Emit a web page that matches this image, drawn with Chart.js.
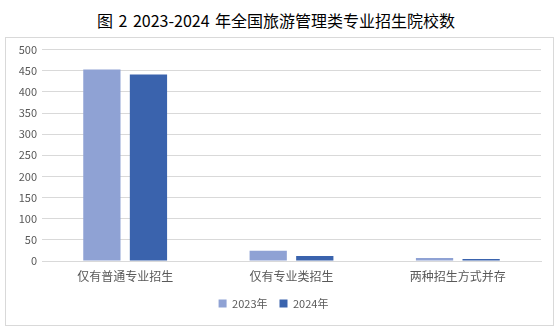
<!DOCTYPE html>
<html>
<head>
<meta charset="utf-8">
<script src="https://cdn.jsdelivr.net/npm/chart.js@4/dist/chart.umd.min.js"></script>
<style>
    body { margin: 0; background: #fff; width: 559px; height: 330px; position: relative; overflow: hidden; }
    #title {
        position: absolute; left: 0; top: 8px; width: 552px; text-align: center;
        font-family: "Noto Sans CJK SC", sans-serif; font-size: 16px; color: #000;
        word-spacing: 2px;
    }
    #box {
        position: absolute; left: 5px; top: 37px; width: 547px; height: 287px;
        border: 1px solid #d9d9d9;
    }
    canvas { display: block; }
</style>
</head>
<body>
<div id="title">图 2 2023-2024 年全国旅游管理类专业招生院校数</div>
<div id="box"><canvas id="chart" width="547" height="287"></canvas></div>
<script>
const categories = ['仅有普通专业招生', '仅有专业类招生', '两种招生方式并存'];
const seriesNames = ['2023年', '2024年'];
const values2023 = [453, 24, 7];
const values2024 = [441, 12, 5];
const yTicks = [0, 50, 100, 150, 200, 250, 300, 350, 400, 450, 500];

const font = { family: '"Noto Sans CJK SC", sans-serif', size: 11 };

new Chart(document.getElementById('chart').getContext('2d'), {
    type: 'bar',
    data: {
        labels: categories,
        datasets: [
            { label: seriesNames[0], data: values2023, backgroundColor: '#8FA2D4' },
            { label: seriesNames[1], data: values2024, backgroundColor: '#3A63AD' }
        ]
    },
    options: {
        responsive: false,
        animation: false,
        devicePixelRatio: 1,
        layout: { padding: { left: 0, right: 12, top: 8, bottom: 6 } },
        datasets: { bar: { categoryPercentage: 0.56, barPercentage: 0.8 } },
        plugins: {
            legend: {
                position: 'bottom',
                labels: { font: font, color: '#595959', boxWidth: 8, boxHeight: 8, padding: 12 }
            },
            tooltip: { enabled: false }
        },
        scales: {
            x: {
                afterFit: axis => { axis.height = 25; },
                grid: { display: false },
                border: { color: '#d9d9d9' },
                ticks: { font: { family: font.family, size: 12 }, color: '#595959', padding: 0, maxRotation: 0 }
            },
            y: {
                min: 0, max: 500,
                afterBuildTicks: axis => { axis.ticks = yTicks.map(v => ({ value: v })); },
                afterFit: axis => { axis.width = 36; },
                grid: { color: '#d9d9d9', drawTicks: false },
                border: { display: false },
                ticks: { font: font, color: '#595959', padding: 5 }
            }
        }
    }
});
</script>
</body>
</html>
